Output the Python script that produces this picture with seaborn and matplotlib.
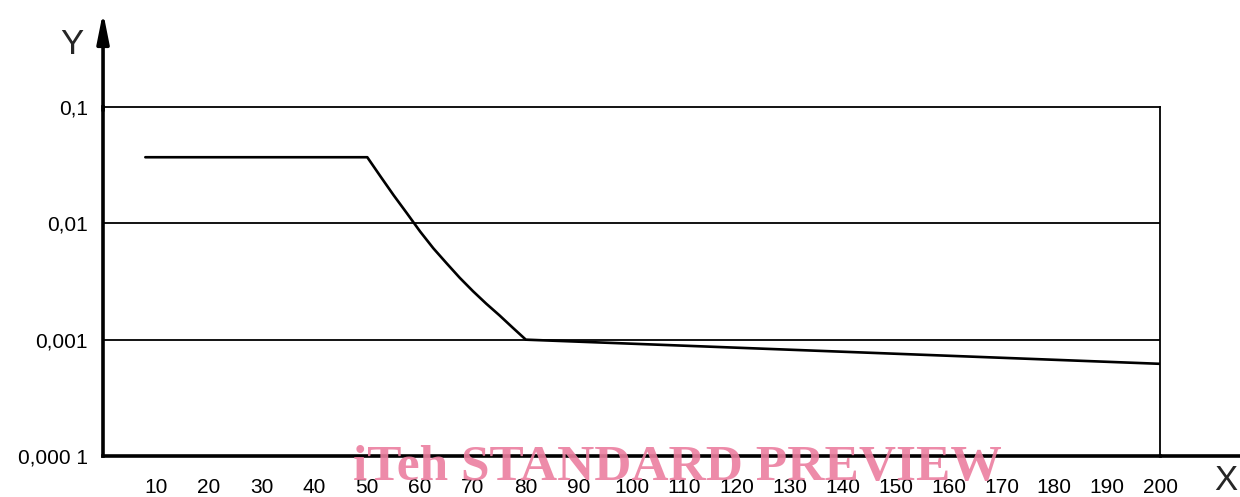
import matplotlib
matplotlib.use("Agg")
import matplotlib.pyplot as plt
import pandas as pd
import seaborn as sns
from matplotlib.ticker import FixedLocator, LogLocator, NullFormatter

# Curve values (x, y) read along the characteristic
x_values = [8, 50, 52.5, 55, 57.5, 60, 62.5, 65, 67.5, 70, 72.5, 75, 77.5, 80, 200]
y_values = [0.037, 0.037, 0.0253, 0.0174, 0.0122, 0.0085, 0.0061, 0.00454,
            0.0034, 0.00261, 0.00204, 0.00162, 0.00127, 0.001, 0.00062]

x_ticks = [10, 20, 30, 40, 50, 60, 70, 80, 90, 100, 110, 120, 130, 140, 150,
           160, 170, 180, 190, 200]
x_tick_labels = [str(v) for v in x_ticks]
y_ticks = [0.0001, 0.001, 0.01, 0.1]
y_tick_labels = ["0,000 1", "0,001", "0,01", "0,1"]

sns.set_style("white")
plt.rcParams["font.family"] = ["Liberation Sans", "DejaVu Sans"]

df = pd.DataFrame({"x": x_values, "y": y_values})

fig = plt.figure(figsize=(12.4, 4.97), dpi=100)
ax = fig.add_axes([0.0831, 0.0825, 0.8524, 0.7022])

sns.lineplot(data=df, x="x", y="y", ax=ax, color="black", linewidth=1.9,
             sort=False, zorder=3)

ax.set_yscale("log")
ax.set_xlim(0, 200)
ax.set_ylim(0.0001, 0.1)

# Frame: heavy axes on left/bottom, thin border top/right
for side in ("left", "bottom"):
    ax.spines[side].set_linewidth(2.6)
    ax.spines[side].set_color("black")
for side in ("top", "right"):
    ax.spines[side].set_linewidth(1.3)
    ax.spines[side].set_color("black")

# Horizontal decade lines
for yv in y_ticks[1:-1]:
    ax.axhline(yv, color="black", linewidth=1.3, zorder=1)

ax.xaxis.set_major_locator(FixedLocator(x_ticks))
ax.set_xticklabels(x_tick_labels)
ax.yaxis.set_major_locator(FixedLocator(y_ticks))
ax.set_yticklabels(y_tick_labels)
ax.yaxis.set_minor_locator(LogLocator(base=10, subs=range(2, 10)))
ax.yaxis.set_minor_formatter(NullFormatter())

ax.tick_params(axis="x", which="major", direction="in", length=11, width=1.3,
               labelsize=15, pad=16, colors="black")
ax.tick_params(axis="y", which="major", direction="in", length=0,
               labelsize=15, pad=11, colors="black")
ax.tick_params(axis="y", which="minor", direction="in", length=8, width=1.5,
               colors="black")
ax.set_xlabel("")
ax.set_ylabel("")

# Axis extensions with arrow on Y
ax.annotate("", xy=(0, 1.272), xytext=(0, 0.99), xycoords="axes fraction",
            textcoords="axes fraction", annotation_clip=False,
            arrowprops=dict(arrowstyle="-|>,head_length=1.0,head_width=0.2",
                            color="black", lw=2.6, mutation_scale=18,
                            shrinkA=0, shrinkB=0))
ax.plot([1.0, 1.09], [0, 0], transform=ax.transAxes, clip_on=False,
        color="black", linewidth=2.6)

fig.text(72 / 1240, 1 - 45 / 497, "Y", ha="center", va="center", fontsize=25)
fig.text(1226 / 1240, 1 - 481 / 497, "X", ha="center", va="center", fontsize=25)

fig.text(677 / 1240, 1 - 468 / 497, "iTeh STANDARD PREVIEW", ha="center",
         va="center", fontsize=37, fontweight="bold",
         family=["Liberation Serif", "DejaVu Serif"], color="#ec7fa0",
         alpha=0.9, zorder=10)

fig.savefig("out.png", dpi=100)
